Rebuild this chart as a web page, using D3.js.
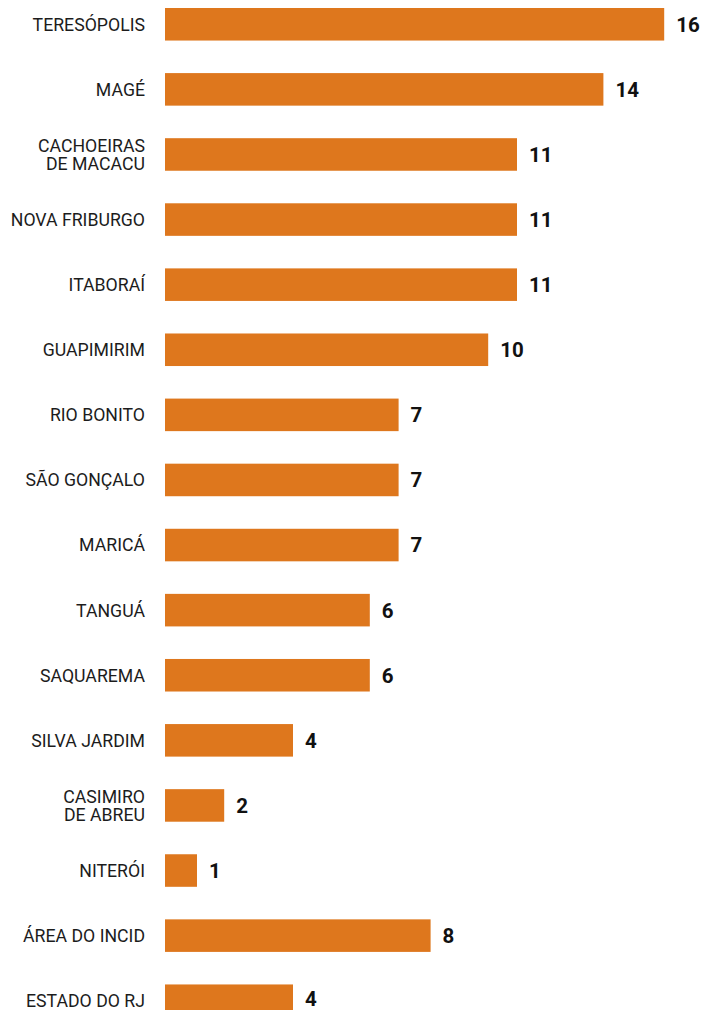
<!DOCTYPE html>
<html>
<head>
<meta charset="utf-8">
<script src="https://cdn.jsdelivr.net/npm/d3@7"></script>
<style>
  html, body { margin: 0; padding: 0; background: #fff; }
  svg { display: block; }
</style>
</head>
<body>
<svg id="chart" width="701" height="1010"></svg>
<script>
// Municipalities (two-line names split with "\n")
const categories = [
  "TERESÓPOLIS",
  "MAGÉ",
  "CACHOEIRAS\nDE MACACU",
  "NOVA FRIBURGO",
  "ITABORAÍ",
  "GUAPIMIRIM",
  "RIO BONITO",
  "SÃO GONÇALO",
  "MARICÁ",
  "TANGUÁ",
  "SAQUAREMA",
  "SILVA JARDIM",
  "CASIMIRO\nDE ABREU",
  "NITERÓI",
  "ÁREA DO INCID",
  "ESTADO DO RJ"
];

// Values per municipality; labels show them rounded to whole numbers
const values = [15.6, 13.7, 11.0, 11.0, 11.0, 10.1, 7.3, 7.3, 7.3, 6.4, 6.4, 4.0, 1.85, 1.0, 8.3, 4.0];

const rows = categories.map((c, i) => ({ name: c, value: values[i] }));

const svg = d3.select("#chart");
const barColor = "#de771d";

const x = d3.scaleLinear().domain([0, 16]).range([165, 677]);
const y = d3.scaleBand()
  .domain(d3.range(rows.length))
  .range([8, 1017])
  .paddingInner(0.5)
  .paddingOuter(0);

const fmt = d3.format(".0f");

const g = svg.selectAll("g.row")
  .data(rows)
  .join("g")
  .attr("class", "row");

g.append("rect")
  .attr("x", x(0))
  .attr("y", (d, i) => y(i))
  .attr("width", d => x(d.value) - x(0))
  .attr("height", y.bandwidth())
  .attr("fill", barColor);

// value labels to the right of each bar
g.append("text")
  .attr("x", d => x(d.value) + 12)
  .attr("y", (d, i) => Math.min(y(i) + y.bandwidth() / 2, 999))
  .attr("dy", "0.36em")
  .attr("font-family", "Roboto, 'Noto Sans', sans-serif")
  .attr("font-size", 20.5)
  .attr("font-weight", 700)
  .attr("fill", "#111")
  .text(d => fmt(d.value));

// category labels, right-aligned before the bars
g.each(function (d, i) {
  const lines = d.name.split("\n");
  const cy = y(i) + y.bandwidth() / 2;
  const lh = 18.5;
  const t = d3.select(this).append("text")
    .attr("text-anchor", "end")
    .attr("font-family", "Roboto, 'Noto Sans', sans-serif")
    .attr("font-size", 17.7)
    .attr("fill", "#1c1c1c");
  lines.forEach((ln, k) => {
    t.append("tspan")
      .attr("x", 145)
      .attr("y", cy + (k - (lines.length - 1) / 2) * lh)
      .attr("dy", "0.36em")
      .text(ln);
  });
});
</script>
</body>
</html>
